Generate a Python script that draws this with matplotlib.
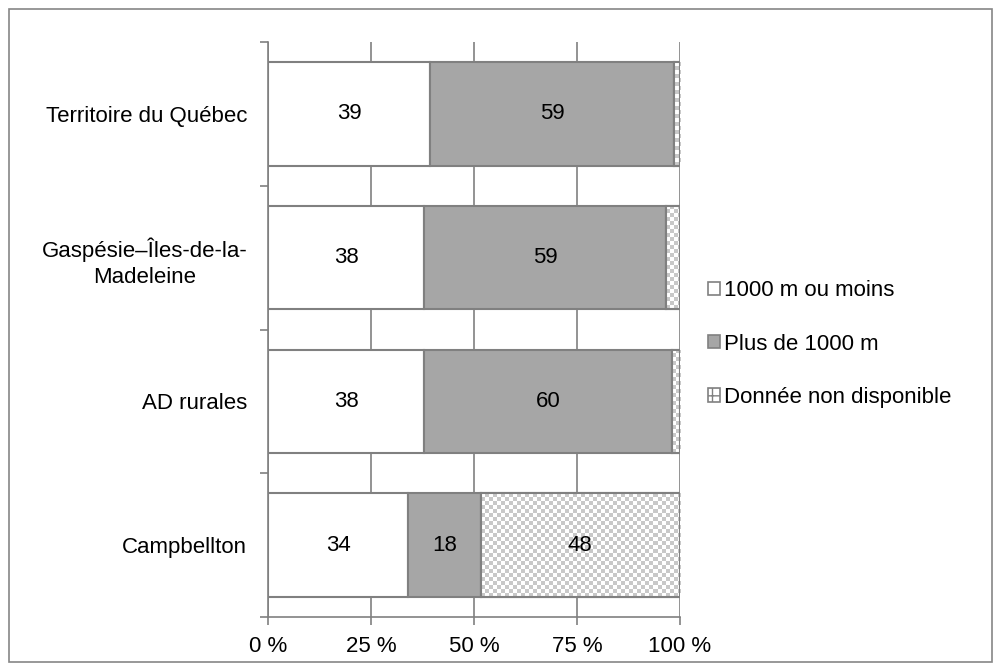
import numpy as np
import matplotlib
matplotlib.use("Agg")
import matplotlib.pyplot as plt
from matplotlib.patches import Rectangle, Patch

plt.rcParams['font.family'] = ['Liberation Sans', 'DejaVu Sans']

categories = ['Territoire du Québec', 'Gaspésie–Îles-de-la-\nMadeleine', 'AD rurales', 'Campbellton']
series_names = ['1000 m ou moins', 'Plus de 1000 m', 'Donnée non disponible']
moins = [39.4, 37.9, 37.9, 34.0]
plus = [59.1, 58.8, 60.1, 17.6]
nd = [1.5, 3.3, 2.0, 48.4]
show_nd_label = [False, False, False, True]
xticks = [0, 25, 50, 75, 100]
xticklabels = ['0 %', '25 %', '50 %', '75 %', '100 %']

edge = '#808080'
fs = 16
fig = plt.figure(figsize=(10.01, 6.71), dpi=100)
ax = fig.add_axes([268/1001, 1-617/671, 412/1001, 575/671])

# outer frame of the chart
fig.patches.append(Rectangle((9/1001, 9/671), 983/1001, 653/671, transform=fig.transFigure,
                             fill=False, edgecolor='#868686', lw=1.2))

y = np.arange(len(categories))[::-1].astype(float)
h = 0.72

ax.barh(y, moins, height=h, color='white', edgecolor=edge, lw=1.5, zorder=3)
ax.barh(y, plus, left=moins, height=h, color='#a6a6a6', edgecolor=edge, lw=1.5, zorder=3)
left2 = np.array(moins) + np.array(plus)
bars3 = ax.barh(y, nd, left=left2, height=h, color='white', edgecolor=edge, lw=1.5, zorder=3)

# checkerboard fill for the "not available" bars
cell_x = 100 / 412 * 4
cell_y = 4 / 143.75
cmap_chk = matplotlib.colors.ListedColormap(['white', '#c8c8c8'])
for b in bars3:
    x0, y0, w, hh = b.get_x(), b.get_y(), b.get_width(), b.get_height()
    nx = max(int(np.ceil(w / cell_x)), 1)
    ny = int(np.ceil(hh / cell_y))
    ii, jj = np.meshgrid(np.arange(nx), np.arange(ny))
    pat = ((ii + jj) % 2).astype(float)
    im = ax.imshow(pat, cmap=cmap_chk,
                   extent=(x0, x0 + nx * cell_x, y0, y0 + ny * cell_y),
                   aspect='auto', interpolation='nearest', zorder=3.5)
    im.set_clip_path(b)
    ax.add_patch(Rectangle((x0, y0), w, hh, fill=False, edgecolor=edge, lw=1.5, zorder=4))

for i in range(len(categories)):
    ax.text(moins[i] / 2, y[i], f"{moins[i]:.0f}", ha='center', va='center', fontsize=fs, zorder=5)
    ax.text(moins[i] + plus[i] / 2, y[i], f"{plus[i]:.0f}", ha='center', va='center', fontsize=fs, zorder=5)
    if show_nd_label[i]:
        ax.text(left2[i] + nd[i] / 2, y[i], f"{nd[i]:.0f}", ha='center', va='center', fontsize=fs, zorder=5)

ax.set_xlim(0, 100)
ax.set_ylim(-0.5, len(categories) - 0.5)
ax.set_xticks(xticks)
ax.set_xticklabels(xticklabels, fontsize=fs)
ax.set_yticks(y)
ax.set_yticklabels(categories, fontsize=fs, ha='right', multialignment='center', linespacing=1.3)
ax.tick_params(axis='y', length=0, pad=15)
ax.set_yticks(np.arange(-0.5, len(categories)), minor=True)
ax.tick_params(axis='y', which='minor', length=6, color=edge, width=1.2, direction='out')
ax.tick_params(axis='x', length=6, color=edge, width=1.2, direction='out', pad=8)

ax.xaxis.grid(True, color=edge, lw=1.2, zorder=0)
for s in ['top', 'right']:
    ax.spines[s].set_visible(False)
for s in ['left', 'bottom']:
    ax.spines[s].set_color(edge)
    ax.spines[s].set_linewidth(1.2)

plt.rcParams['hatch.color'] = '#c0c0c0'
handles = [Patch(facecolor='white', edgecolor=edge, lw=1.2),
           Patch(facecolor='#a6a6a6', edgecolor=edge, lw=1.2),
           Patch(facecolor='white', edgecolor=edge, lw=1.2, hatch='++')]
fig.legend(handles, series_names, loc='center left', bbox_to_anchor=(688/1001, 1-344/671),
           frameon=False, fontsize=fs, handlelength=0.55, handleheight=0.55,
           handletextpad=0.15, labelspacing=1.45)

fig.savefig('out.png', dpi=100)
